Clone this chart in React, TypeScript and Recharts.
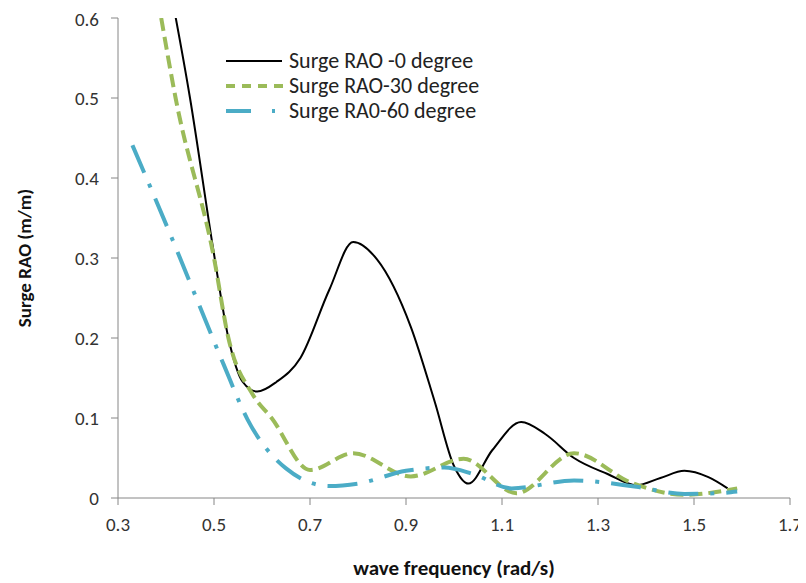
import { CartesianGrid, Label, Legend, Line, LineChart, XAxis, YAxis } from "recharts";

// wave frequency (rad/s) vs surge RAO (m/m)
const surge0 = [
  { x: 0.4, y: 0.665 },
  { x: 0.45, y: 0.5 },
  { x: 0.5, y: 0.305 },
  { x: 0.53, y: 0.2 },
  { x: 0.56, y: 0.145 },
  { x: 0.59, y: 0.133 },
  { x: 0.63, y: 0.145 },
  { x: 0.68, y: 0.175 },
  { x: 0.74, y: 0.26 },
  { x: 0.79, y: 0.32 },
  { x: 0.84, y: 0.298 },
  { x: 0.91, y: 0.214 },
  { x: 0.96, y: 0.12 },
  { x: 1.0, y: 0.04 },
  { x: 1.03, y: 0.018 },
  { x: 1.08, y: 0.06 },
  { x: 1.14, y: 0.095 },
  { x: 1.19, y: 0.08 },
  { x: 1.25, y: 0.05 },
  { x: 1.32, y: 0.03 },
  { x: 1.38, y: 0.016 },
  { x: 1.43, y: 0.025 },
  { x: 1.48, y: 0.034 },
  { x: 1.53, y: 0.026 },
  { x: 1.57, y: 0.012 },
];

const surge30 = [
  { x: 0.39, y: 0.6 },
  { x: 0.42, y: 0.5 },
  { x: 0.5, y: 0.3 },
  { x: 0.53, y: 0.2 },
  { x: 0.58, y: 0.13 },
  { x: 0.62, y: 0.1 },
  { x: 0.7, y: 0.035 },
  { x: 0.79, y: 0.056 },
  { x: 0.91, y: 0.027 },
  { x: 1.02, y: 0.049 },
  { x: 1.13, y: 0.006 },
  { x: 1.25, y: 0.056 },
  { x: 1.37, y: 0.019 },
  { x: 1.48, y: 0.004 },
  { x: 1.59, y: 0.012 },
];

const surge60 = [
  { x: 0.33, y: 0.441 },
  { x: 0.37, y: 0.385 },
  { x: 0.41, y: 0.328 },
  { x: 0.47, y: 0.24 },
  { x: 0.52, y: 0.167 },
  { x: 0.57, y: 0.098 },
  { x: 0.65, y: 0.037 },
  { x: 0.74, y: 0.015 },
  { x: 0.8, y: 0.018 },
  { x: 0.9, y: 0.034 },
  { x: 0.98, y: 0.038 },
  { x: 1.04, y: 0.03 },
  { x: 1.12, y: 0.012 },
  { x: 1.25, y: 0.022 },
  { x: 1.38, y: 0.014 },
  { x: 1.48, y: 0.005 },
  { x: 1.55, y: 0.006 },
  { x: 1.59, y: 0.008 },
];

const xTicks = [0.3, 0.5, 0.7, 0.9, 1.1, 1.3, 1.5, 1.7];
const yTicks = [0, 0.1, 0.2, 0.3, 0.4, 0.5, 0.6];

const seriesNames = ["Surge RAO -0 degree", "Surge RAO-30 degree", "Surge RA0-60 degree"];

const FONT = "Carlito, Lato, 'Liberation Sans', sans-serif";

const LegendBox = () => (
  <div style={{ fontFamily: FONT, fontSize: 22, color: "#222", textAlign: "left" }}>
    {seriesNames.map((name, i) => (
      <div key={name} style={{ display: "flex", alignItems: "center", height: 25 }}>
        <svg width={62} height={10} style={{ marginRight: 2 }}>
          {i === 0 && <line x1={1} y1={5} x2={57} y2={5} stroke="#000" strokeWidth={2} />}
          {i === 1 && (
            <line x1={1} y1={5} x2={58} y2={5} stroke="#9BBB59" strokeWidth={4} strokeDasharray="9 7" />
          )}
          {i === 2 && (
            <line x1={1} y1={5} x2={60} y2={5} stroke="#4BACC6" strokeWidth={4} strokeDasharray="25 21 3 20" />
          )}
        </svg>
        <span>{name}</span>
      </div>
    ))}
  </div>
);

export default function App() {
  return (
    <LineChart width={798} height={575} margin={{ top: 10, right: 16, bottom: 0, left: 0 }}>
      <CartesianGrid stroke="none" />
      <XAxis
        type="number"
        dataKey="x"
        domain={[0.3, 1.7]}
        ticks={xTicks}
        tickFormatter={(v) => v.toFixed(1)}
        height={85}
        tickSize={7}
        tickMargin={13}
        stroke="#868686"
        tick={{ fill: "#333", fontSize: 19, fontFamily: FONT }}
        allowDataOverflow
      >
        <Label
          value="wave frequency (rad/s)"
          position="insideBottom"
          offset={8}
          style={{ fontFamily: FONT, fontSize: 21, fontWeight: "bold", fill: "#111" }}
        />
      </XAxis>
      <YAxis
        type="number"
        domain={[0, 0.6]}
        ticks={yTicks}
        tickFormatter={(v) => (v === 0 ? "0" : v.toFixed(1))}
        width={110}
        tickSize={7}
        tickMargin={12}
        stroke="#868686"
        tick={{ fill: "#333", fontSize: 19, fontFamily: FONT }}
        allowDataOverflow
      >
        <Label
          value="Surge RAO (m/m)"
          angle={-90}
          position="insideLeft"
          offset={16}
          style={{ textAnchor: "middle", fontFamily: FONT, fontSize: 19, fontWeight: "bold", fill: "#111" }}
        />
      </YAxis>
      <Legend
        layout="vertical"
        verticalAlign="middle"
        align="center"
        content={<LegendBox />}
        wrapperStyle={{ left: 217, top: 40, width: 340 }}
      />
      <Line
        data={surge0}
        dataKey="y"
        name={seriesNames[0]}
        type="monotone"
        stroke="#000"
        strokeWidth={2}
        dot={false}
        isAnimationActive={false}
      />
      <Line
        data={surge30}
        dataKey="y"
        name={seriesNames[1]}
        type="monotone"
        stroke="#9BBB59"
        strokeWidth={4}
        strokeDasharray="13 6"
        dot={false}
        isAnimationActive={false}
      />
      <Line
        data={surge60}
        dataKey="y"
        name={seriesNames[2]}
        type="monotone"
        stroke="#4BACC6"
        strokeWidth={4}
        strokeDasharray="30 12 4 12"
        dot={false}
        isAnimationActive={false}
      />
    </LineChart>
  );
}
